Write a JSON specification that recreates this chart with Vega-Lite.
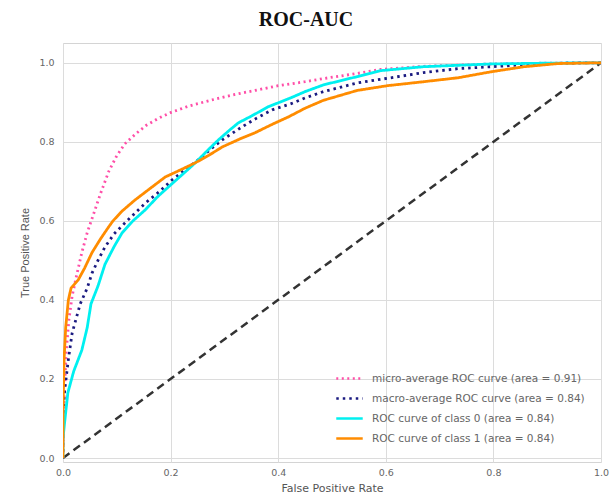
{
  "$schema": "https://vega.github.io/schema/vega-lite/v6.json",
  "width": 538,
  "height": 419,
  "autosize": {"type": "none"},
  "padding": {"left": 63, "top": 43, "right": 15, "bottom": 41},
  "background": "white",
  "title": {"text": "ROC-AUC", "font": "Liberation Serif", "fontSize": 20, "fontWeight": "bold", "color": "#111", "anchor": "middle", "offset": 13, "dx": -26},
  "config": {
    "view": {"stroke": "#d4d4d4", "strokeWidth": 1},
    "axis": {"grid": true, "gridColor": "#dcdcdc", "gridWidth": 1, "domain": false, "ticks": false, "labelFlush": false, "labelColor": "#666", "labelFont": "DejaVu Sans", "labelFontSize": 9.5, "titleColor": "#555", "titleFont": "Liberation Sans", "titleFontSize": 11, "titleFontWeight": "normal"},
    "legend": {"labelFont": "DejaVu Sans", "labelFontSize": 10.5, "labelColor": "#666", "labelLimit": 400}
  },
  "datasets": {
    "curves": [
      {"series": "micro-average ROC curve (area = 0.91)", "fpr": 0, "tpr": 0},
      {"series": "micro-average ROC curve (area = 0.91)", "fpr": 0.002, "tpr": 0.15},
      {"series": "micro-average ROC curve (area = 0.91)", "fpr": 0.006, "tpr": 0.27},
      {"series": "micro-average ROC curve (area = 0.91)", "fpr": 0.011, "tpr": 0.35},
      {"series": "micro-average ROC curve (area = 0.91)", "fpr": 0.017, "tpr": 0.41},
      {"series": "micro-average ROC curve (area = 0.91)", "fpr": 0.025, "tpr": 0.46},
      {"series": "micro-average ROC curve (area = 0.91)", "fpr": 0.035, "tpr": 0.52},
      {"series": "micro-average ROC curve (area = 0.91)", "fpr": 0.045, "tpr": 0.57},
      {"series": "micro-average ROC curve (area = 0.91)", "fpr": 0.055, "tpr": 0.61},
      {"series": "micro-average ROC curve (area = 0.91)", "fpr": 0.07, "tpr": 0.67},
      {"series": "micro-average ROC curve (area = 0.91)", "fpr": 0.085, "tpr": 0.725},
      {"series": "micro-average ROC curve (area = 0.91)", "fpr": 0.1, "tpr": 0.765},
      {"series": "micro-average ROC curve (area = 0.91)", "fpr": 0.115, "tpr": 0.795},
      {"series": "micro-average ROC curve (area = 0.91)", "fpr": 0.135, "tpr": 0.82},
      {"series": "micro-average ROC curve (area = 0.91)", "fpr": 0.155, "tpr": 0.842},
      {"series": "micro-average ROC curve (area = 0.91)", "fpr": 0.178, "tpr": 0.86},
      {"series": "micro-average ROC curve (area = 0.91)", "fpr": 0.2, "tpr": 0.874},
      {"series": "micro-average ROC curve (area = 0.91)", "fpr": 0.235, "tpr": 0.891},
      {"series": "micro-average ROC curve (area = 0.91)", "fpr": 0.277, "tpr": 0.906},
      {"series": "micro-average ROC curve (area = 0.91)", "fpr": 0.32, "tpr": 0.92},
      {"series": "micro-average ROC curve (area = 0.91)", "fpr": 0.357, "tpr": 0.93},
      {"series": "micro-average ROC curve (area = 0.91)", "fpr": 0.4, "tpr": 0.942},
      {"series": "micro-average ROC curve (area = 0.91)", "fpr": 0.45, "tpr": 0.952},
      {"series": "micro-average ROC curve (area = 0.91)", "fpr": 0.484, "tpr": 0.96},
      {"series": "micro-average ROC curve (area = 0.91)", "fpr": 0.547, "tpr": 0.973},
      {"series": "micro-average ROC curve (area = 0.91)", "fpr": 0.59, "tpr": 0.983},
      {"series": "micro-average ROC curve (area = 0.91)", "fpr": 0.67, "tpr": 0.991},
      {"series": "micro-average ROC curve (area = 0.91)", "fpr": 0.8, "tpr": 0.997},
      {"series": "micro-average ROC curve (area = 0.91)", "fpr": 0.9, "tpr": 0.999},
      {"series": "micro-average ROC curve (area = 0.91)", "fpr": 1, "tpr": 1},

      {"series": "macro-average ROC curve (area = 0.84)", "fpr": 0, "tpr": 0},
      {"series": "macro-average ROC curve (area = 0.84)", "fpr": 0, "tpr": 0.1},
      {"series": "macro-average ROC curve (area = 0.84)", "fpr": 0.003, "tpr": 0.17},
      {"series": "macro-average ROC curve (area = 0.84)", "fpr": 0.01, "tpr": 0.25},
      {"series": "macro-average ROC curve (area = 0.84)", "fpr": 0.017, "tpr": 0.316},
      {"series": "macro-average ROC curve (area = 0.84)", "fpr": 0.032, "tpr": 0.39},
      {"series": "macro-average ROC curve (area = 0.84)", "fpr": 0.045, "tpr": 0.43},
      {"series": "macro-average ROC curve (area = 0.84)", "fpr": 0.054, "tpr": 0.468},
      {"series": "macro-average ROC curve (area = 0.84)", "fpr": 0.065, "tpr": 0.5},
      {"series": "macro-average ROC curve (area = 0.84)", "fpr": 0.078, "tpr": 0.534},
      {"series": "macro-average ROC curve (area = 0.84)", "fpr": 0.095, "tpr": 0.567},
      {"series": "macro-average ROC curve (area = 0.84)", "fpr": 0.119, "tpr": 0.6},
      {"series": "macro-average ROC curve (area = 0.84)", "fpr": 0.153, "tpr": 0.645},
      {"series": "macro-average ROC curve (area = 0.84)", "fpr": 0.18, "tpr": 0.675},
      {"series": "macro-average ROC curve (area = 0.84)", "fpr": 0.203, "tpr": 0.704},
      {"series": "macro-average ROC curve (area = 0.84)", "fpr": 0.228, "tpr": 0.73},
      {"series": "macro-average ROC curve (area = 0.84)", "fpr": 0.251, "tpr": 0.754},
      {"series": "macro-average ROC curve (area = 0.84)", "fpr": 0.275, "tpr": 0.782},
      {"series": "macro-average ROC curve (area = 0.84)", "fpr": 0.296, "tpr": 0.805},
      {"series": "macro-average ROC curve (area = 0.84)", "fpr": 0.333, "tpr": 0.838},
      {"series": "macro-average ROC curve (area = 0.84)", "fpr": 0.36, "tpr": 0.86},
      {"series": "macro-average ROC curve (area = 0.84)", "fpr": 0.389, "tpr": 0.881},
      {"series": "macro-average ROC curve (area = 0.84)", "fpr": 0.423, "tpr": 0.896},
      {"series": "macro-average ROC curve (area = 0.84)", "fpr": 0.45, "tpr": 0.911},
      {"series": "macro-average ROC curve (area = 0.84)", "fpr": 0.484, "tpr": 0.927},
      {"series": "macro-average ROC curve (area = 0.84)", "fpr": 0.547, "tpr": 0.949},
      {"series": "macro-average ROC curve (area = 0.84)", "fpr": 0.609, "tpr": 0.962},
      {"series": "macro-average ROC curve (area = 0.84)", "fpr": 0.67, "tpr": 0.975},
      {"series": "macro-average ROC curve (area = 0.84)", "fpr": 0.734, "tpr": 0.985},
      {"series": "macro-average ROC curve (area = 0.84)", "fpr": 0.795, "tpr": 0.99},
      {"series": "macro-average ROC curve (area = 0.84)", "fpr": 0.857, "tpr": 0.995},
      {"series": "macro-average ROC curve (area = 0.84)", "fpr": 0.93, "tpr": 0.999},
      {"series": "macro-average ROC curve (area = 0.84)", "fpr": 1, "tpr": 1},

      {"series": "ROC curve of class 0 (area = 0.84)", "fpr": 0, "tpr": 0},
      {"series": "ROC curve of class 0 (area = 0.84)", "fpr": 0, "tpr": 0.05},
      {"series": "ROC curve of class 0 (area = 0.84)", "fpr": 0.003, "tpr": 0.09},
      {"series": "ROC curve of class 0 (area = 0.84)", "fpr": 0.009, "tpr": 0.165},
      {"series": "ROC curve of class 0 (area = 0.84)", "fpr": 0.02, "tpr": 0.22},
      {"series": "ROC curve of class 0 (area = 0.84)", "fpr": 0.035, "tpr": 0.273},
      {"series": "ROC curve of class 0 (area = 0.84)", "fpr": 0.045, "tpr": 0.33},
      {"series": "ROC curve of class 0 (area = 0.84)", "fpr": 0.052, "tpr": 0.39},
      {"series": "ROC curve of class 0 (area = 0.84)", "fpr": 0.065, "tpr": 0.435},
      {"series": "ROC curve of class 0 (area = 0.84)", "fpr": 0.078, "tpr": 0.49},
      {"series": "ROC curve of class 0 (area = 0.84)", "fpr": 0.095, "tpr": 0.535},
      {"series": "ROC curve of class 0 (area = 0.84)", "fpr": 0.11, "tpr": 0.57},
      {"series": "ROC curve of class 0 (area = 0.84)", "fpr": 0.13, "tpr": 0.6},
      {"series": "ROC curve of class 0 (area = 0.84)", "fpr": 0.153, "tpr": 0.628},
      {"series": "ROC curve of class 0 (area = 0.84)", "fpr": 0.175, "tpr": 0.66},
      {"series": "ROC curve of class 0 (area = 0.84)", "fpr": 0.196, "tpr": 0.686},
      {"series": "ROC curve of class 0 (area = 0.84)", "fpr": 0.22, "tpr": 0.715},
      {"series": "ROC curve of class 0 (area = 0.84)", "fpr": 0.246, "tpr": 0.747},
      {"series": "ROC curve of class 0 (area = 0.84)", "fpr": 0.27, "tpr": 0.78},
      {"series": "ROC curve of class 0 (area = 0.84)", "fpr": 0.289, "tpr": 0.805},
      {"series": "ROC curve of class 0 (area = 0.84)", "fpr": 0.31, "tpr": 0.83},
      {"series": "ROC curve of class 0 (area = 0.84)", "fpr": 0.326, "tpr": 0.848},
      {"series": "ROC curve of class 0 (area = 0.84)", "fpr": 0.35, "tpr": 0.865},
      {"series": "ROC curve of class 0 (area = 0.84)", "fpr": 0.382, "tpr": 0.889},
      {"series": "ROC curve of class 0 (area = 0.84)", "fpr": 0.423, "tpr": 0.911},
      {"series": "ROC curve of class 0 (area = 0.84)", "fpr": 0.45, "tpr": 0.927},
      {"series": "ROC curve of class 0 (area = 0.84)", "fpr": 0.484, "tpr": 0.944},
      {"series": "ROC curve of class 0 (area = 0.84)", "fpr": 0.547, "tpr": 0.965},
      {"series": "ROC curve of class 0 (area = 0.84)", "fpr": 0.59, "tpr": 0.98},
      {"series": "ROC curve of class 0 (area = 0.84)", "fpr": 0.67, "tpr": 0.99},
      {"series": "ROC curve of class 0 (area = 0.84)", "fpr": 0.795, "tpr": 0.997},
      {"series": "ROC curve of class 0 (area = 0.84)", "fpr": 0.9, "tpr": 0.999},
      {"series": "ROC curve of class 0 (area = 0.84)", "fpr": 1, "tpr": 1},

      {"series": "ROC curve of class 1 (area = 0.84)", "fpr": 0, "tpr": 0},
      {"series": "ROC curve of class 1 (area = 0.84)", "fpr": 0, "tpr": 0.12},
      {"series": "ROC curve of class 1 (area = 0.84)", "fpr": 0.002, "tpr": 0.25},
      {"series": "ROC curve of class 1 (area = 0.84)", "fpr": 0.005, "tpr": 0.33},
      {"series": "ROC curve of class 1 (area = 0.84)", "fpr": 0.01, "tpr": 0.4},
      {"series": "ROC curve of class 1 (area = 0.84)", "fpr": 0.015, "tpr": 0.43},
      {"series": "ROC curve of class 1 (area = 0.84)", "fpr": 0.028, "tpr": 0.45},
      {"series": "ROC curve of class 1 (area = 0.84)", "fpr": 0.04, "tpr": 0.48},
      {"series": "ROC curve of class 1 (area = 0.84)", "fpr": 0.054, "tpr": 0.52},
      {"series": "ROC curve of class 1 (area = 0.84)", "fpr": 0.07, "tpr": 0.555},
      {"series": "ROC curve of class 1 (area = 0.84)", "fpr": 0.085, "tpr": 0.585},
      {"series": "ROC curve of class 1 (area = 0.84)", "fpr": 0.093, "tpr": 0.6},
      {"series": "ROC curve of class 1 (area = 0.84)", "fpr": 0.11, "tpr": 0.625},
      {"series": "ROC curve of class 1 (area = 0.84)", "fpr": 0.134, "tpr": 0.653},
      {"series": "ROC curve of class 1 (area = 0.84)", "fpr": 0.16, "tpr": 0.68},
      {"series": "ROC curve of class 1 (area = 0.84)", "fpr": 0.19, "tpr": 0.711},
      {"series": "ROC curve of class 1 (area = 0.84)", "fpr": 0.22, "tpr": 0.73},
      {"series": "ROC curve of class 1 (area = 0.84)", "fpr": 0.246, "tpr": 0.747},
      {"series": "ROC curve of class 1 (area = 0.84)", "fpr": 0.27, "tpr": 0.765},
      {"series": "ROC curve of class 1 (area = 0.84)", "fpr": 0.296, "tpr": 0.787},
      {"series": "ROC curve of class 1 (area = 0.84)", "fpr": 0.33, "tpr": 0.808},
      {"series": "ROC curve of class 1 (area = 0.84)", "fpr": 0.357, "tpr": 0.823},
      {"series": "ROC curve of class 1 (area = 0.84)", "fpr": 0.39, "tpr": 0.845},
      {"series": "ROC curve of class 1 (area = 0.84)", "fpr": 0.419, "tpr": 0.863},
      {"series": "ROC curve of class 1 (area = 0.84)", "fpr": 0.45, "tpr": 0.885},
      {"series": "ROC curve of class 1 (area = 0.84)", "fpr": 0.484, "tpr": 0.905},
      {"series": "ROC curve of class 1 (area = 0.84)", "fpr": 0.547, "tpr": 0.93},
      {"series": "ROC curve of class 1 (area = 0.84)", "fpr": 0.603, "tpr": 0.942},
      {"series": "ROC curve of class 1 (area = 0.84)", "fpr": 0.67, "tpr": 0.952},
      {"series": "ROC curve of class 1 (area = 0.84)", "fpr": 0.734, "tpr": 0.962},
      {"series": "ROC curve of class 1 (area = 0.84)", "fpr": 0.795, "tpr": 0.977},
      {"series": "ROC curve of class 1 (area = 0.84)", "fpr": 0.857, "tpr": 0.99},
      {"series": "ROC curve of class 1 (area = 0.84)", "fpr": 0.92, "tpr": 0.998},
      {"series": "ROC curve of class 1 (area = 0.84)", "fpr": 1, "tpr": 1}
    ],
    "chance": [
      {"fpr": 0, "tpr": 0},
      {"fpr": 1, "tpr": 1}
    ]
  },
  "layer": [
    {
      "data": {"name": "chance"},
      "mark": {"type": "line", "stroke": "#333333", "strokeWidth": 2.5, "strokeDash": [8, 5], "clip": true},
      "encoding": {
        "x": {"field": "fpr", "type": "quantitative", "scale": {"domain": [0, 1]}, "axis": {"title": "False Positive Rate", "titleFont": "DejaVu Sans", "titleFontSize": 11, "values": [0, 0.2, 0.4, 0.6, 0.8, 1], "format": ".1f", "labelPadding": 5, "titlePadding": 6}},
        "y": {"field": "tpr", "type": "quantitative", "scale": {"domain": [-0.01, 1.05], "nice": false}, "axis": {"title": "True Positive Rate", "values": [0, 0.2, 0.4, 0.6, 0.8, 1], "format": ".1f", "labelPadding": 9, "titlePadding": 8}}
      }
    },
    {
      "data": {"name": "curves"},
      "mark": {"type": "line", "strokeWidth": 2.8, "clip": true},
      "encoding": {
        "x": {"field": "fpr", "type": "quantitative"},
        "y": {"field": "tpr", "type": "quantitative"},
        "order": {"field": "tpr", "type": "quantitative"},
        "color": {
          "field": "series", "type": "nominal",
          "scale": {
            "domain": ["micro-average ROC curve (area = 0.91)", "macro-average ROC curve (area = 0.84)", "ROC curve of class 0 (area = 0.84)", "ROC curve of class 1 (area = 0.84)"],
            "range": ["#ff4fa8", "#1a1a80", "#00f0f0", "#ff8c00"]
          },
          "legend": {"title": null, "orient": "none", "legendX": 268, "legendY": 317, "symbolType": "stroke", "symbolSize": 700, "symbolStrokeWidth": 2.5, "rowPadding": -3, "labelOffset": 8, "padding": 4}
        },
        "strokeDash": {
          "field": "series", "type": "nominal",
          "scale": {
            "domain": ["micro-average ROC curve (area = 0.91)", "macro-average ROC curve (area = 0.84)", "ROC curve of class 0 (area = 0.84)", "ROC curve of class 1 (area = 0.84)"],
            "range": [[2, 3.5], [2.5, 4], [1, 0], [1, 0]]
          },
          "legend": null
        }
      }
    }
  ]
}
